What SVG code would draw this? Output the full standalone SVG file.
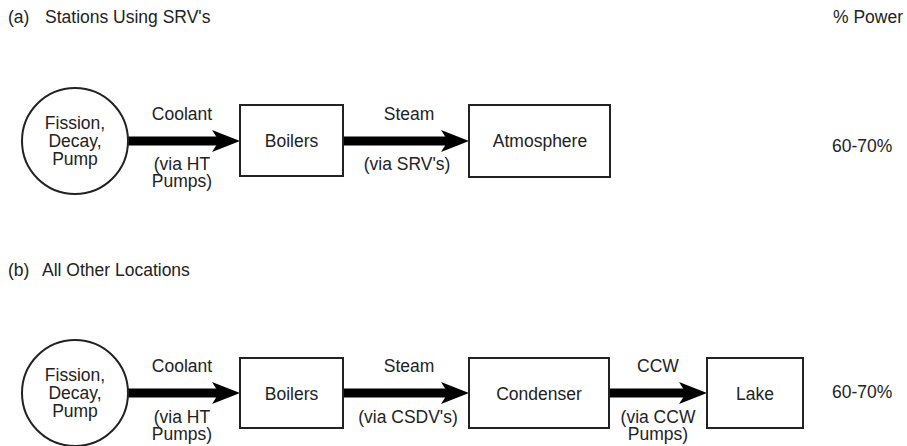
<svg xmlns="http://www.w3.org/2000/svg" width="907" height="446" viewBox="0 0 907 446">
<style>
text{font-family:"Liberation Sans",Arial,sans-serif;font-size:17.5px;fill:#222}
.c{text-anchor:middle}
.box{fill:#fff;stroke:#222;stroke-width:2}
.arr{stroke:#000;stroke-width:9;fill:none}
</style>
<defs>
<marker id="ah" markerUnits="userSpaceOnUse" markerWidth="28" markerHeight="26" viewBox="0 0 28 26" refX="14" refY="13" orient="auto">
<path d="M0,2 L28,13 L0,24 L7,13 Z" fill="#000"/>
</marker>
</defs>
<rect width="907" height="446" fill="#fff"/>
<g id="headings">
<text x="8" y="23">(a)<tspan x="45">Stations Using SRV's</tspan></text>
<text x="833" y="23">% Power</text>
<text x="8" y="276">(b)<tspan x="42">All Other Locations</tspan></text>
</g>
<g id="connectors">
<line class="arr" x1="128" y1="141" x2="226" y2="141" marker-end="url(#ah)"/>
<line class="arr" x1="343" y1="141" x2="455" y2="141" marker-end="url(#ah)"/>
<line class="arr" x1="128" y1="393" x2="226" y2="393" marker-end="url(#ah)"/>
<line class="arr" x1="343" y1="393" x2="455" y2="393" marker-end="url(#ah)"/>
<line class="arr" x1="609" y1="393" x2="693" y2="393" marker-end="url(#ah)"/>
</g>
<g id="labels">
<text class="c" x="182" y="120">Coolant</text>
<text class="c" x="182" y="170">(via HT</text>
<text class="c" x="182" y="187">Pumps)</text>
<text class="c" x="409" y="120">Steam</text>
<text class="c" x="407" y="170">(via SRV's)</text>
<text class="c" x="182" y="372">Coolant</text>
<text class="c" x="182" y="423">(via HT</text>
<text class="c" x="182" y="440">Pumps)</text>
<text class="c" x="409" y="372">Steam</text>
<text class="c" x="408" y="423">(via CSDV's)</text>
<text class="c" x="658" y="372">CCW</text>
<text class="c" x="658" y="423">(via CCW</text>
<text class="c" x="658" y="440">Pumps)</text>
<text x="832" y="152">60-70%</text>
<text x="832" y="398">60-70%</text>
</g>
<g id="a-source">
<circle cx="75" cy="141" r="53" fill="#fff" stroke="#222" stroke-width="2"/>
<text class="c" x="75" y="129">Fission,</text>
<text class="c" x="75" y="147">Decay,</text>
<text class="c" x="75" y="165">Pump</text>
</g>
<g id="a-boilers">
<rect class="box" x="240" y="105" width="103" height="71"/>
<text class="c" x="291.5" y="147">Boilers</text>
</g>
<g id="a-atmosphere">
<rect class="box" x="469" y="105" width="141" height="72"/>
<text class="c" x="540" y="147">Atmosphere</text>
</g>
<g id="b-source">
<circle cx="75" cy="393" r="53" fill="#fff" stroke="#222" stroke-width="2"/>
<text class="c" x="75" y="381">Fission,</text>
<text class="c" x="75" y="399">Decay,</text>
<text class="c" x="75" y="417">Pump</text>
</g>
<g id="b-boilers">
<rect class="box" x="240" y="358" width="103" height="70"/>
<text class="c" x="291.5" y="400">Boilers</text>
</g>
<g id="b-condenser">
<rect class="box" x="469" y="358" width="140" height="70"/>
<text class="c" x="539" y="400">Condenser</text>
</g>
<g id="b-lake">
<rect class="box" x="707" y="358" width="96" height="70"/>
<text class="c" x="755" y="400">Lake</text>
</g>
</svg>
